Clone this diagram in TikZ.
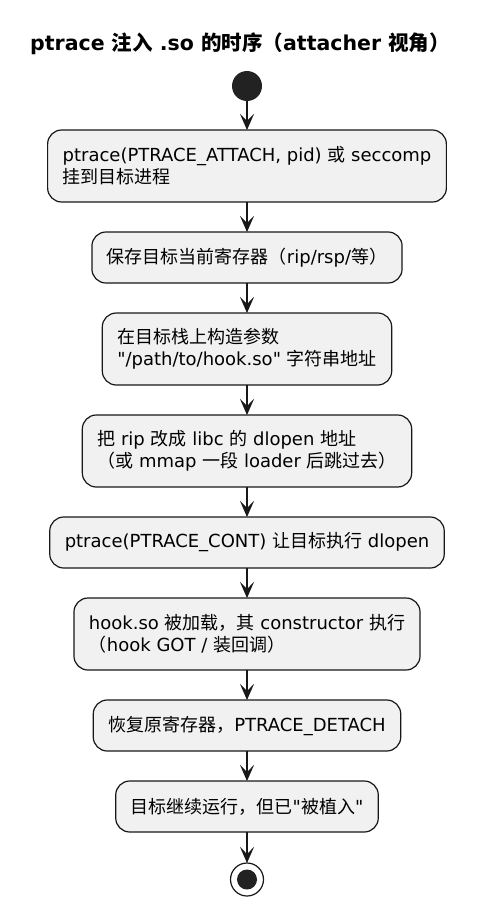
\documentclass[tikz,border=0pt]{standalone}
\usepackage{fontspec}
\setmainfont{DejaVu Sans}[Ligatures=TeXOff]
\newfontfamily\cjk{Noto Sans CJK SC}
\newcommand{\zhs}[1]{{\cjk #1}}
\usepackage{tikz}
\usetikzlibrary{arrows.meta, positioning}

\definecolor{boxfill}{HTML}{F1F1F1}
\definecolor{boxline}{HTML}{181818}
\definecolor{dotfill}{HTML}{222222}

\begin{document}
\begin{tikzpicture}[x=1pt,y=-1pt,
    node distance=30pt,
    every node/.style={font=\fontsize{18}{22}\selectfont,outer sep=0pt},
    stepbox/.style={draw=boxline,line width=1.2pt,fill=boxfill,rounded corners=14pt,
      align=left,inner xsep=15pt,minimum height=51pt},
    twoline/.style={stepbox,minimum height=72pt},
    flow/.style={draw=boxline,line width=1.3pt,-{Stealth[length=16pt,width=14pt,inset=7pt]}}]
  \useasboundingbox (0,0) rectangle (492,910);

  \node[font=\fontsize{20.5}{24}\selectfont\bfseries] (title) at (240,44)
    {ptrace \zhs{注入} .so \zhs{的时序（}attacher \zhs{视角）}};

  \node[circle,fill=dotfill,minimum size=30pt,inner sep=0pt] (start) at (247,86) {};

  \node[twoline,below=29pt of start] (attach)
    {ptrace(PTRACE\_ATTACH, pid) \zhs{或} seccomp\\\zhs{挂到目标进程}};
  \node[stepbox,below=of attach] (save)
    {\zhs{保存目标当前寄存器（}rip/rsp/\zhs{等）}};
  \node[twoline,below=of save] (stack)
    {\zhs{在目标栈上构造参数}\\"/path/to/hook.so" \zhs{字符串地址}};
  \node[twoline,below=of stack] (rip)
    {\zhs{把} rip \zhs{改成} libc \zhs{的} dlopen \zhs{地址}\\\zhs{（或} mmap \zhs{一段} loader \zhs{后跳过去）}};
  \node[stepbox,below=of rip] (cont)
    {ptrace(PTRACE\_CONT) \zhs{让目标执行} dlopen};
  \node[twoline,below=of cont] (load)
    {hook.so \zhs{被加载，其} constructor \zhs{执行}\\\zhs{（}hook GOT / \zhs{装回调）}};
  \node[stepbox,below=of load] (detach)
    {\zhs{恢复原寄存器，}PTRACE\_DETACH};
  \node[stepbox,below=of detach] (run)
    {\zhs{目标继续运行，但已}"\zhs{被植入}"};

  \node[circle,draw=boxline,line width=1.2pt,fill=white,minimum size=33pt,inner sep=0pt,
    below=31pt of run] (stop) {};
  \fill[dotfill] (stop.center) circle (10pt);

  \foreach \a/\b in {start/attach,attach/save,save/stack,stack/rip,rip/cont,
      cont/load,load/detach,detach/run,run/stop}
    \draw[flow] (\a) -- (\b);
\end{tikzpicture}
\end{document}
